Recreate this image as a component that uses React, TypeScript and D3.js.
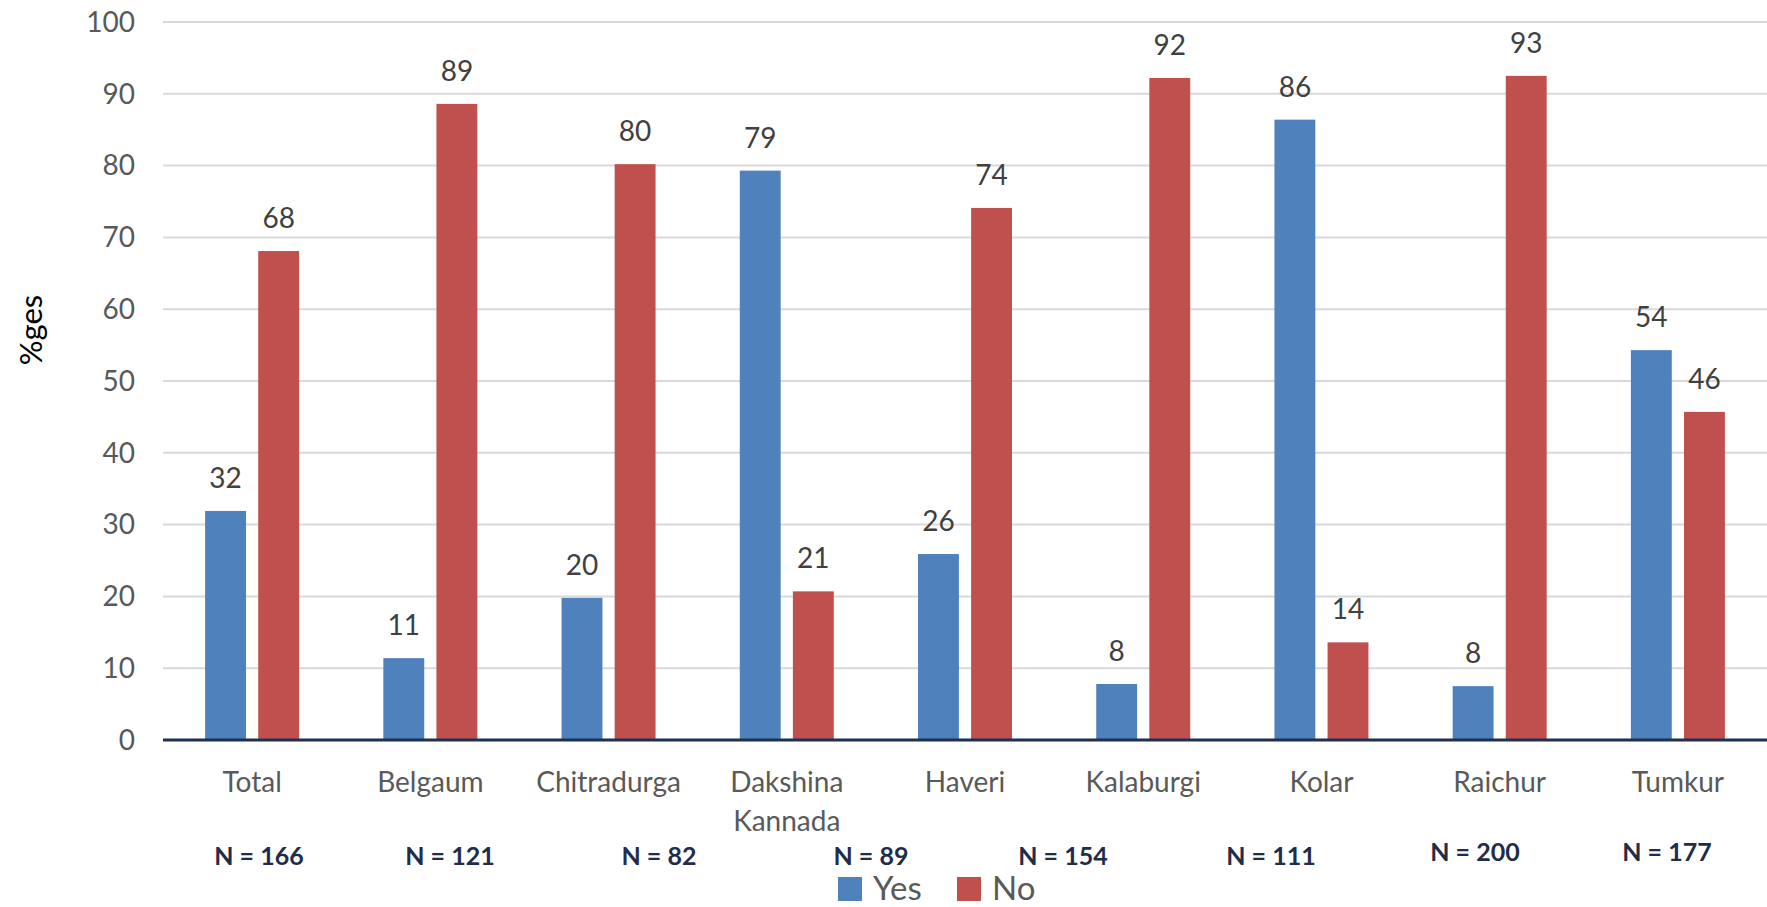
import React from "react";
import * as d3 from "d3";

const categories: string[][] = [
  ["Total"], ["Belgaum"], ["Chitradurga"], ["Dakshina", "Kannada"], ["Haveri"],
  ["Kalaburgi"], ["Kolar"], ["Raichur"], ["Tumkur"],
];
const series = ["Yes", "No"];
const yesValues = [31.9, 11.4, 19.8, 79.3, 25.9, 7.8, 86.4, 7.5, 54.3];
const noValues = [68.1, 88.6, 80.2, 20.7, 74.1, 92.2, 13.6, 92.5, 45.7];
const yTicks = [0, 10, 20, 30, 40, 50, 60, 70, 80, 90, 100];
const nLabels = ["N = 166", "N = 121", "N = 82", "N = 89", "N = 154", "N = 111", "N = 200", "N = 177"];

// layout of the free-floating N annotations (pixel x centres, y baselines)
const nLabelX = [259, 450, 659, 871, 1063, 1271, 1475, 1667];
const nLabelY = [865, 865, 865, 865, 865, 865, 861, 861];

const W = 1767;
const H = 907;
const left = 163;
const right = 1767;
const top = 22;
const bottom = 740;
const colors: Record<string, string> = { Yes: "#4f81bd", No: "#c0504d" };
const FONT = "Lato, 'Open Sans', sans-serif";

export default function App() {
  const keys = categories.map((c) => c.join(" "));
  const x0 = d3.scaleBand<string>().domain(keys).range([left, right]);
  const y = d3.scaleLinear().domain([0, 100]).range([bottom, top]);
  const groupW = 94;
  const x1 = d3.scaleBand<string>().domain(series).range([-groupW / 2, groupW / 2]).paddingInner(0.23);
  const valuesBy: Record<string, number[]> = { Yes: yesValues, No: noValues };

  return (
    <svg width={W} height={H} style={{ position: "absolute", left: 0, top: 0, background: "#fff" }} fontFamily={FONT}>
      {yTicks.map((t) => (
        <g key={t}>
          {t > 0 && <line x1={left} x2={right} y1={y(t)} y2={y(t)} stroke="#d9d9d9" strokeWidth={2} />}
          <text x={135} y={y(t)} dy="0.35em" textAnchor="end" fontSize={28} fill="#595959">{t}</text>
        </g>
      ))}
      {keys.map((k, i) => {
        const cx = (x0(k) as number) + x0.bandwidth() / 2;
        return (
          <g key={k}>
            {series.map((s) => {
              const v = valuesBy[s][i];
              const bx = cx + (x1(s) as number);
              const bw = x1.bandwidth();
              return (
                <g key={s}>
                  <rect x={bx} y={y(v)} width={bw} height={y(0) - y(v)} fill={colors[s]} />
                  <text x={bx + bw / 2} y={y(v) - 23} textAnchor="middle" fontSize={28} fill="#404040">
                    {Math.round(v)}
                  </text>
                </g>
              );
            })}
            {categories[i].map((line, j) => (
              <text key={j} x={cx} y={792 + j * 39} textAnchor="middle" fontSize={28} fill="#595959">{line}</text>
            ))}
          </g>
        );
      })}
      <line x1={left} x2={right} y1={y(0)} y2={y(0)} stroke="#1f3050" strokeWidth={3} />
      {nLabels.map((n, i) => (
        <text key={n} x={nLabelX[i]} y={nLabelY[i]} textAnchor="middle" fontSize={25} fontWeight="bold" fill="#1f2d4a">{n}</text>
      ))}
      <text transform={`translate(42,330) rotate(-90)`} textAnchor="middle" fontSize={31} fill="#000">%ges</text>
      {series.map((s, i) => {
        const lx = [838, 957][i];
        return (
          <g key={s}>
            <rect x={lx} y={877} width={24} height={24} fill={colors[s]} />
            <text x={lx + 35} y={900} fontSize={33} fill="#595959">{s}</text>
          </g>
        );
      })}
    </svg>
  );
}
